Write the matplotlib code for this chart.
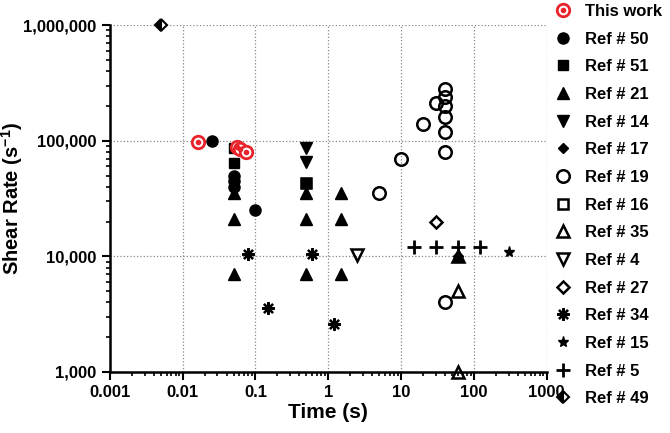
import numpy as np
import matplotlib
matplotlib.use('Agg')
import matplotlib.pyplot as plt
from matplotlib.ticker import FuncFormatter, LogLocator, NullFormatter
from matplotlib.legend_handler import HandlerTuple

plt.rcParams['font.family'] = ['Liberation Sans', 'DejaVu Sans']
plt.rcParams['font.weight'] = 'bold'
plt.rcParams['mathtext.fontset'] = 'custom'
plt.rcParams['mathtext.bf'] = 'Liberation Sans:bold'
plt.rcParams['mathtext.rm'] = 'Liberation Sans:bold'
plt.rcParams['mathtext.default'] = 'bf'

# data: time (s) and shear rate (1/s)
this_t = [0.016, 0.055, 0.062, 0.075]
this_r = [98000, 88000, 84000, 80000]
r50_t = [0.025, 0.05, 0.05, 0.05, 0.1]
r50_r = [100000, 50000, 45000, 40000, 25000]
r51_t = [0.05, 0.05, 0.5]
r51_r = [87000, 64000, 43000]
r21_t = [0.05, 0.05, 0.05, 0.5, 0.5, 0.5, 1.5, 1.5, 1.5, 60]
r21_r = [35000, 21000, 7000, 35000, 21000, 7000, 35000, 21000, 7000, 10000]
r14_t = [0.5, 0.5]
r14_r = [87000, 65000]
r17_t = [60]
r17_r = [10000]
r19_t = [5, 10, 20, 30, 40, 40, 40, 40, 40, 40, 40]
r19_r = [35000, 70000, 140000, 210000, 280000, 240000, 200000, 160000, 120000, 80000, 4000]
r16_t = [0.5]
r16_r = [43000]
r35_t = [60, 60, 60]
r35_r = [10000, 5000, 1000]
r4_t = [2.5]
r4_r = [10200]
r27_t = [30]
r27_r = [20000]
r34_t = [0.08, 0.15, 0.6, 1.2]
r34_r = [10500, 3600, 10500, 2600]
r15_t = [300]
r15_r = [11000]
r5_t = [15, 30, 60, 120]
r5_r = [12000, 12000, 12000, 12000]
r49_t = [0.005]
r49_r = [1000000]

fig = plt.figure(figsize=(6.7, 4.33), dpi=100)
ax = fig.add_axes([0.164, 0.141, 0.652, 0.801])

ms = 7
common = dict(linestyle='none', clip_on=False)

h_ring, = ax.plot(this_t, this_r, marker='o', ms=9, mfc='white', mec='#e8232a', mew=2, zorder=6, **common)
h_dot, = ax.plot(this_t, this_r, marker='o', ms=3, mfc='#e8232a', mec='#e8232a', zorder=7, **common)
h16, = ax.plot(r16_t, r16_r, marker='s', ms=ms, mfc='white', mec='black', mew=1.8, zorder=2, **common)
h50, = ax.plot(r50_t, r50_r, marker='o', ms=ms + 1, color='black', zorder=3, **common)
h51, = ax.plot(r51_t, r51_r, marker='s', ms=ms, color='black', zorder=3, **common)
h21, = ax.plot(r21_t, r21_r, marker='^', ms=ms + 1, color='black', zorder=3, **common)
h14, = ax.plot(r14_t, r14_r, marker='v', ms=ms + 1, color='black', zorder=3, **common)
h17, = ax.plot(r17_t, r17_r, marker='D', ms=5.5, color='black', zorder=3, **common)
h19, = ax.plot(r19_t, r19_r, marker='o', ms=ms + 2, mfc='none', mec='black', mew=1.8, zorder=3, **common)
h35, = ax.plot(r35_t, r35_r, marker='^', ms=ms + 1, mfc='none', mec='black', mew=1.8, zorder=3, **common)
h4, = ax.plot(r4_t, r4_r, marker='v', ms=ms + 1, mfc='none', mec='black', mew=1.8, zorder=3, **common)
h27, = ax.plot(r27_t, r27_r, marker='D', ms=6, mfc='none', mec='black', mew=1.8, zorder=3, **common)
h34, = ax.plot(r34_t, r34_r, marker=(8, 2, 0), ms=ms + 2, color='black', mew=1.6, zorder=3, **common)
h15, = ax.plot(r15_t, r15_r, marker='*', ms=ms + 1, color='black', zorder=3, **common)
h5, = ax.plot(r5_t, r5_r, marker='+', ms=ms + 3, color='black', mew=2, zorder=3, **common)
h49, = ax.plot(r49_t, r49_r, marker='D', ms=6, fillstyle='left', mfc='black', mfcalt='white',
               mec='black', mew=1.5, zorder=3, **common)

ax.set_xscale('log')
ax.set_yscale('log')
ax.set_xlim(0.001, 1000)
ax.set_ylim(1000, 1000000)

ax.xaxis.set_major_formatter(FuncFormatter(lambda v, p: f'{v:g}'))
ax.yaxis.set_major_formatter(FuncFormatter(lambda v, p: f'{v:,.0f}'))
ax.xaxis.set_minor_locator(LogLocator(base=10, subs=np.arange(2, 10), numticks=20))
ax.yaxis.set_minor_locator(LogLocator(base=10, subs=np.arange(2, 10), numticks=20))
ax.xaxis.set_minor_formatter(NullFormatter())
ax.yaxis.set_minor_formatter(NullFormatter())

ax.tick_params(which='major', direction='out', length=6, width=1.5, labelsize=12, colors='black')
ax.tick_params(which='minor', direction='out', length=3, width=1.2)
for s in ['top', 'right']:
    ax.spines[s].set_visible(False)
for s in ['left', 'bottom']:
    ax.spines[s].set_linewidth(1.8)

ax.grid(True, which='major', linestyle=':', color='#888888', linewidth=0.9)
ax.set_axisbelow(True)

ax.set_xlabel('Time (s)', fontsize=15, fontweight='bold', labelpad=2)
ax.set_ylabel('Shear Rate (s$^{-1}$)', fontsize=14.5, fontweight='bold')
ax.yaxis.set_label_coords(-0.195, 0.5)

handles = [(h_ring, h_dot), h50, h51, h21, h14, h17, h19, h16, h35, h4, h27, h34, h15, h5, h49]
labels = ['This work', 'Ref # 50', 'Ref # 51', 'Ref # 21', 'Ref # 14', 'Ref # 17', 'Ref # 19',
          'Ref # 16', 'Ref # 35', 'Ref # 4', 'Ref # 27', 'Ref # 34', 'Ref # 15', 'Ref # 5', 'Ref # 49']
fig.legend(handles, labels, loc='upper left', bbox_to_anchor=(0.825, 0.991), frameon=False,
           fontsize=12, handlelength=1.2, handletextpad=0.75, labelspacing=0.76,
           borderpad=0.0, borderaxespad=0.0,
           handler_map={tuple: HandlerTuple(ndivide=1, pad=0)})

fig.savefig('out.png', dpi=100)
